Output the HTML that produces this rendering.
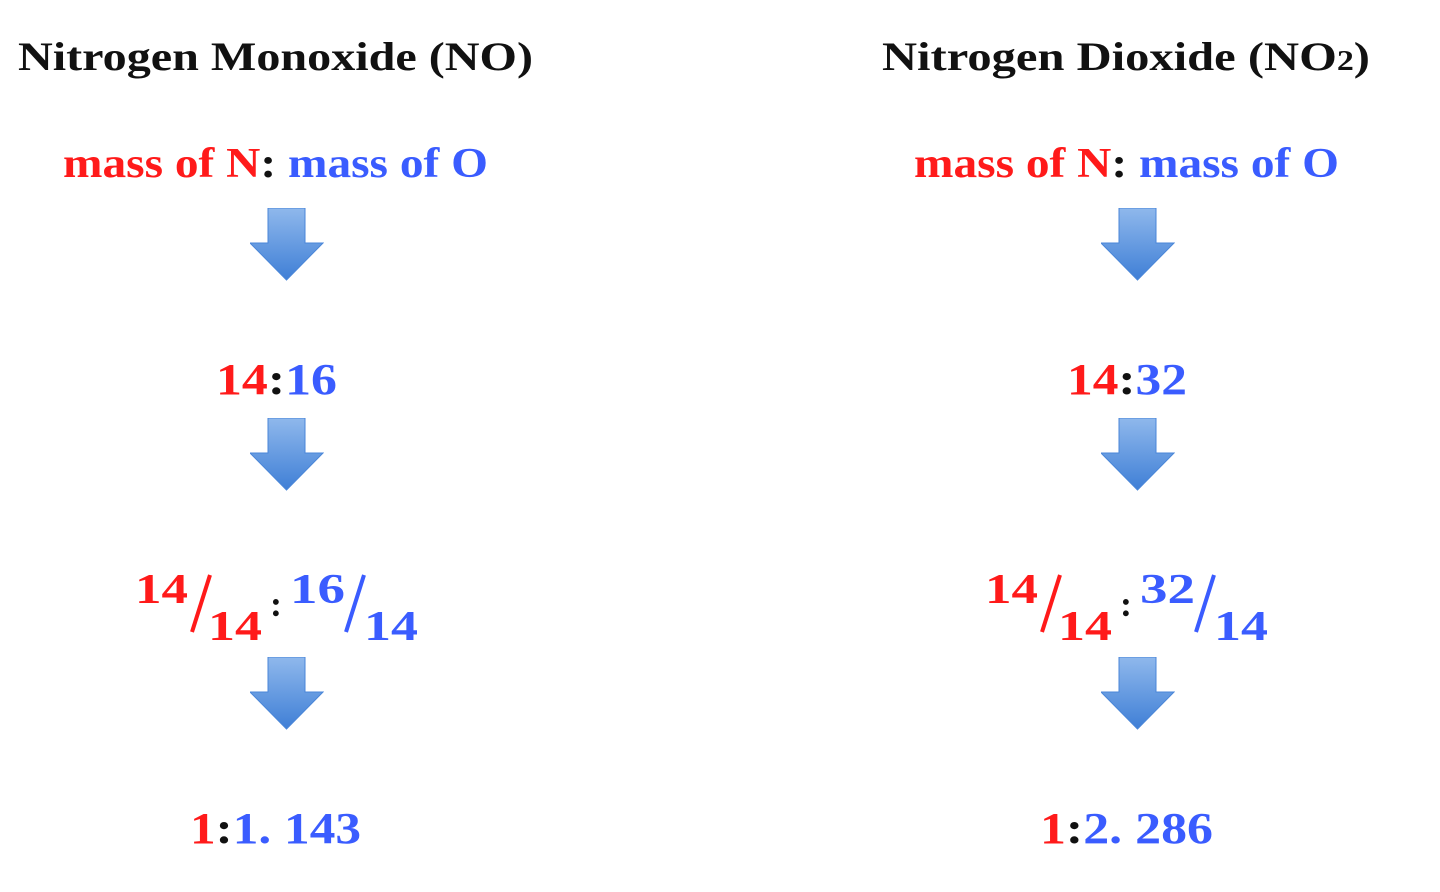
<!DOCTYPE html>
<html><head><meta charset="utf-8"><style>
html,body{margin:0;padding:0;background:#fff;}
svg{display:block;}
text{font-family:"Liberation Serif",serif;font-weight:bold;}
.r{fill:#ff1a1a}.b{fill:#3a5cff}.k{fill:#111}
</style></head><body>
<svg width="1440" height="892" viewBox="0 0 1440 892">
<defs>
<linearGradient id="ag" x1="0" y1="0" x2="0" y2="1">
<stop offset="0" stop-color="#8fb8ec"/><stop offset="1" stop-color="#3f7fd6"/>
</linearGradient>
<symbol id="arrow" viewBox="0 0 74 74">
<path d="M18 0 H55 V35 H73 L36.5 72 L0 35 H18 Z" fill="url(#ag)" stroke="#4a86d8" stroke-width="1"/>
</symbol>
</defs>

<g>
<text x="18" y="70" class="k" font-size="40" textLength="515" lengthAdjust="spacingAndGlyphs">Nitrogen Monoxide (NO)</text>
<text x="63" y="177" font-size="42" textLength="425" lengthAdjust="spacingAndGlyphs"><tspan class="r">mass of N</tspan><tspan class="k">: </tspan><tspan class="b">mass of O</tspan></text>
<use href="#arrow" x="250" y="208" width="74" height="74"/>
<text x="216" y="394" font-size="44" textLength="121" lengthAdjust="spacingAndGlyphs"><tspan class="r">14</tspan><tspan class="k">:</tspan><tspan class="b">16</tspan></text>
<use href="#arrow" x="250" y="418" width="74" height="74"/>
<g>
<text x="135" y="603" class="r" font-size="42" textLength="53" lengthAdjust="spacingAndGlyphs">14</text>
<line x1="210" y1="575" x2="192" y2="632" stroke="#ff1a1a" stroke-width="4"/>
<text x="208" y="640" class="r" font-size="42" textLength="54" lengthAdjust="spacingAndGlyphs">14</text>
<text x="270" y="616" class="k" font-size="36">:</text>
<text x="290" y="603" class="b" font-size="42" textLength="55" lengthAdjust="spacingAndGlyphs">16</text>
<line x1="364" y1="575" x2="346" y2="632" stroke="#3a5cff" stroke-width="4"/>
<text x="364" y="640" class="b" font-size="42" textLength="54" lengthAdjust="spacingAndGlyphs">14</text>
</g>
<use href="#arrow" x="250" y="657" width="74" height="74"/>
<text x="190" y="843" font-size="44" textLength="171" lengthAdjust="spacingAndGlyphs"><tspan class="r">1</tspan><tspan class="k">:</tspan><tspan class="b">1. 143</tspan></text>
</g>

<g>
<text x="882" y="70" class="k" font-size="40" textLength="488" lengthAdjust="spacingAndGlyphs">Nitrogen Dioxide (NO<tspan font-size="28">2</tspan>)</text>
<text x="914" y="177" font-size="42" textLength="425" lengthAdjust="spacingAndGlyphs"><tspan class="r">mass of N</tspan><tspan class="k">: </tspan><tspan class="b">mass of O</tspan></text>
<use href="#arrow" x="1101" y="208" width="74" height="74"/>
<text x="1067" y="394" font-size="44" textLength="120" lengthAdjust="spacingAndGlyphs"><tspan class="r">14</tspan><tspan class="k">:</tspan><tspan class="b">32</tspan></text>
<use href="#arrow" x="1101" y="418" width="74" height="74"/>
<g>
<text x="985" y="603" class="r" font-size="42" textLength="53" lengthAdjust="spacingAndGlyphs">14</text>
<line x1="1060" y1="575" x2="1042" y2="632" stroke="#ff1a1a" stroke-width="4"/>
<text x="1058" y="640" class="r" font-size="42" textLength="54" lengthAdjust="spacingAndGlyphs">14</text>
<text x="1120" y="616" class="k" font-size="36">:</text>
<text x="1140" y="603" class="b" font-size="42" textLength="55" lengthAdjust="spacingAndGlyphs">32</text>
<line x1="1214" y1="575" x2="1196" y2="632" stroke="#3a5cff" stroke-width="4"/>
<text x="1214" y="640" class="b" font-size="42" textLength="54" lengthAdjust="spacingAndGlyphs">14</text>
</g>
<use href="#arrow" x="1101" y="657" width="74" height="74"/>
<text x="1040" y="843" font-size="44" textLength="173" lengthAdjust="spacingAndGlyphs"><tspan class="r">1</tspan><tspan class="k">:</tspan><tspan class="b">2. 286</tspan></text>
</g>
</svg>
</body></html>
